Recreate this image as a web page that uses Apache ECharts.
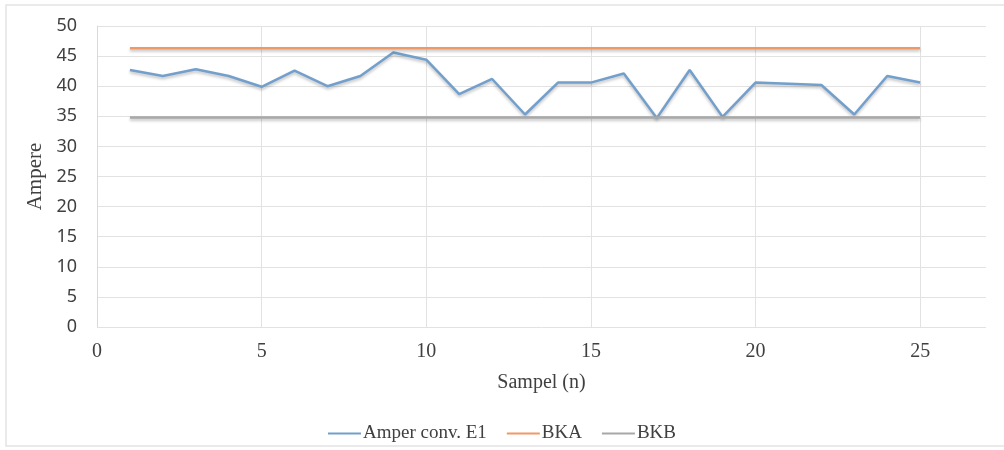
<!DOCTYPE html>
<html>
<head>
<meta charset="utf-8">
<script src="https://cdn.jsdelivr.net/npm/echarts@6/dist/echarts.min.js"></script>
<style>html,body{margin:0;padding:0;background:#fff}#c{width:1004px;height:450px}</style>
</head>
<body>
<div id="c"></div>
<script>
const samples = [1,2,3,4,5,6,7,8,9,10,11,12,13,14,15,16,17,18,19,20,21,22,23,24,25];
const amperE1 = [42.7,41.7,42.8,41.7,39.9,42.6,40.0,41.7,45.6,44.4,38.7,41.2,35.3,40.6,40.6,42.1,34.7,42.7,34.9,40.6,40.4,40.2,35.3,41.7,40.6];
const bkaValue = 46.3;
const bkbValue = 34.8;
const xTicks = [0,5,10,15,20,25];
const yTicks = [0,5,10,15,20,25,30,35,40,45,50];

const chart = echarts.init(document.getElementById('c'));
const pair = (vals) => samples.map((s, i) => [s, vals[i]]);
const flat = (v) => samples.map(s => [s, v]);
const serif = '"Liberation Serif", "DejaVu Serif", serif';
const sans = '"Noto Sans", "Open Sans", sans-serif';

chart.setOption({
  animation: false,
  backgroundColor: '#fff',
  graphic: [{
    type: 'rect', shape: {x: 6, y: 5, width: 1010, height: 441},
    style: {fill: 'none', stroke: '#e4e4e4', lineWidth: 1.5}, silent: true, z: -1
  }],
  grid: {left: 97, right: 18, top: 26, bottom: 123},
  legend: {
    top: 419, left: 'center', itemWidth: 33, itemHeight: 2, itemGap: 20,
    icon: 'rect',
    textStyle: {fontFamily: serif, fontSize: 19, color: '#404040', padding: [0, 0, 0, -3]},
    data: ['Amper conv. E1', 'BKA', 'BKB']
  },
  xAxis: {
    type: 'value', min: 0, max: 27, interval: 5,
    name: 'Sampel (n)', nameLocation: 'middle', nameGap: 46,
    nameTextStyle: {fontFamily: serif, fontSize: 20, color: '#404040'},
    axisLine: {show: false},
    axisTick: {show: false},
    axisLabel: {margin: 15, fontFamily: serif, fontSize: 20, color: '#404040', showMaxLabel: false,
      formatter: v => xTicks.includes(v) ? String(v) : ''},
    splitLine: {show: true, showMaxLine: false, lineStyle: {color: '#e2e2e2', width: 1}}
  },
  yAxis: {
    type: 'value', min: 0, max: 50, interval: 5,
    name: 'Ampere', nameLocation: 'middle', nameGap: 45, nameRotate: 90,
    nameTextStyle: {fontFamily: serif, fontSize: 21, color: '#404040'},
    axisLine: {show: true, lineStyle: {color: '#d9d9d9', width: 1}},
    axisTick: {show: false},
    axisLabel: {margin: 20, fontFamily: sans, fontSize: 18, color: '#404040',
      formatter: v => yTicks.includes(v) ? String(v) : ''},
    splitLine: {show: true, lineStyle: {color: '#e2e2e2', width: 1}}
  },
  series: [
    {name: 'Amper conv. E1', type: 'line', data: pair(amperE1), showSymbol: false, symbol: 'none',
     lineStyle: {color: '#729fcc', width: 2.5, shadowColor: 'rgba(0,0,0,0.25)', shadowBlur: 3, shadowOffsetY: 2},
     itemStyle: {color: '#729fcc'}, z: 3},
    {name: 'BKA', type: 'line', data: flat(bkaValue), showSymbol: false, symbol: 'none',
     lineStyle: {color: '#ef9a66', width: 2.5, shadowColor: 'rgba(0,0,0,0.25)', shadowBlur: 3, shadowOffsetY: 2},
     itemStyle: {color: '#ef9a66'}},
    {name: 'BKB', type: 'line', data: flat(bkbValue), showSymbol: false, symbol: 'none',
     lineStyle: {color: '#a8a8a8', width: 2.5, shadowColor: 'rgba(0,0,0,0.25)', shadowBlur: 3, shadowOffsetY: 2},
     itemStyle: {color: '#a8a8a8'}}
  ]
});
</script>
</body>
</html>
